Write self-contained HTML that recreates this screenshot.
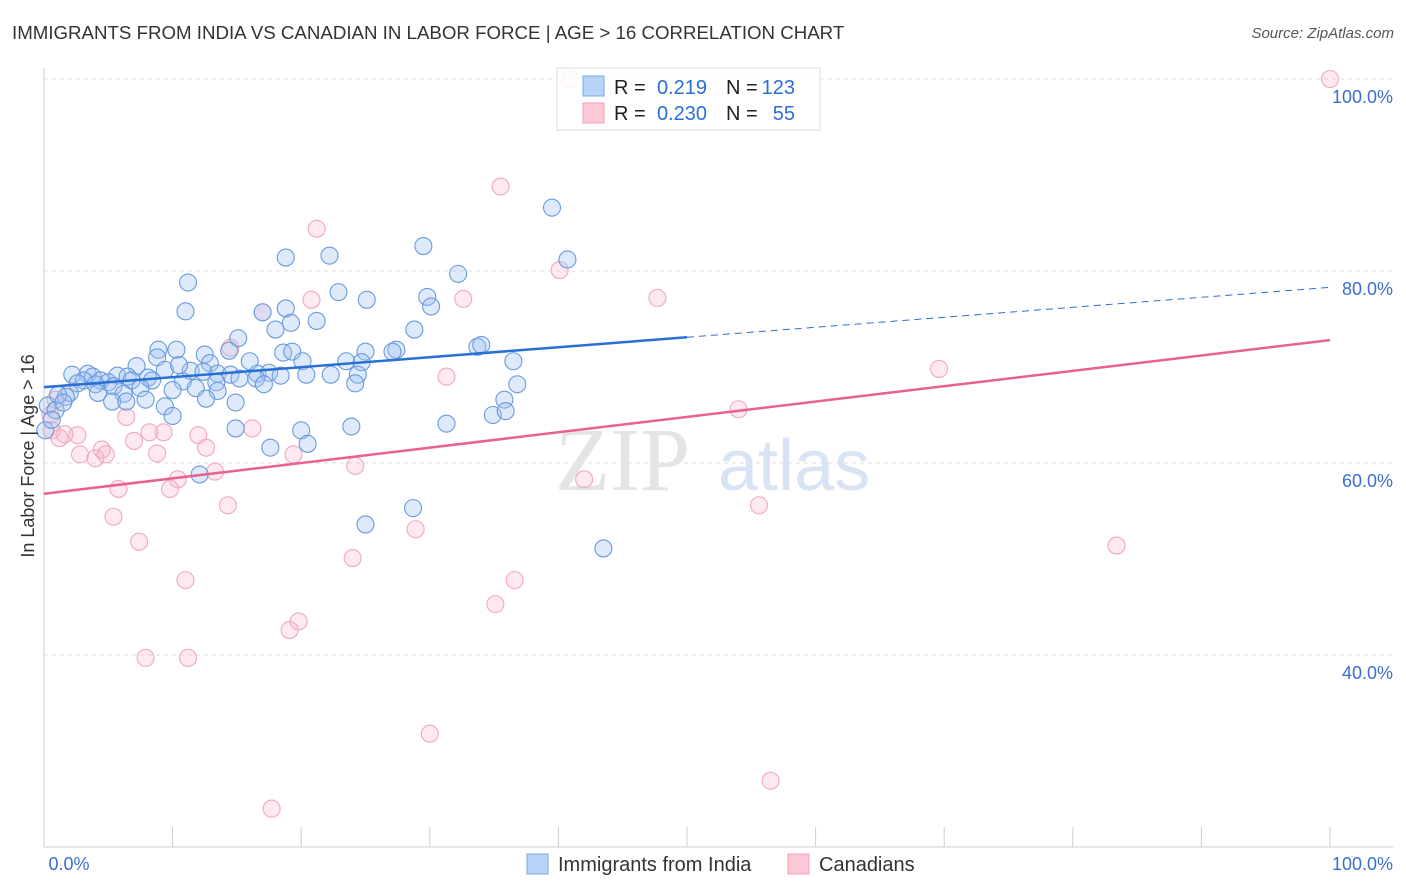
<!DOCTYPE html>
<html><head><meta charset="utf-8"><style>
body{margin:0;background:#fff;font-family:"Liberation Sans",sans-serif;}
#wrap{position:relative;width:1406px;height:892px;}
.t{position:absolute;white-space:nowrap;}
</style></head><body>
<div id="wrap">
<div class="t" style="left:12px;top:22px;font-size:18.7px;color:#333;">IMMIGRANTS FROM INDIA VS CANADIAN IN LABOR FORCE | AGE &gt; 16 CORRELATION CHART</div>
<div class="t" style="right:12px;top:25px;font-size:15px;color:#555;font-style:italic;">Source: ZipAtlas.com</div>
<svg id="svg" width="1406" height="892" style="position:absolute;left:0;top:0;"></svg>
</div>
<script>
const blueX=[39.5,40.7,29.5,18.8,22.2,32.2,11.2,22.9,25.1,29.8,30.1,11.0,18.8,17.0,21.2,19.2,28.8,18.0,15.1,8.9,10.3,14.4,12.5,18.6,19.3,25.0,27.4,27.1,33.7,34.0,8.8,12.9,16.0,20.1,23.5,24.7,36.5,7.2,9.4,11.4,10.5,2.2,3.4,3.8,5.7,6.5,8.1,12.4,13.5,14.5,16.6,17.5,18.4,20.4,22.3,24.4,3.1,4.4,5.0,6.8,8.4,10.8,15.2,16.5,17.1,13.4,24.2,36.8,2.6,4.0,5.4,7.5,11.8,13.5,2.0,4.2,6.2,10.0,1.7,5.3,6.4,7.9,12.6,14.9,0.3,0.9,9.4,35.8,34.9,35.9,10.0,14.9,20.0,23.9,31.3,20.5,17.6,12.1,25.0,28.7,43.5,0.1,0.6,1.1,1.5];
const blueY=[86.6,81.2,82.6,81.4,81.6,79.7,78.8,77.8,77.0,77.3,76.3,75.8,76.1,75.7,74.8,74.6,73.9,73.9,73.0,71.8,71.8,71.7,71.3,71.5,71.6,71.6,71.8,71.6,72.1,72.3,71.0,70.4,70.6,70.6,70.6,70.5,70.6,70.1,69.7,69.6,70.2,69.2,69.3,69.0,69.1,69.0,68.9,69.5,69.3,69.2,69.3,69.4,69.1,69.2,69.2,69.2,68.6,68.6,68.4,68.6,68.6,68.5,68.8,68.8,68.2,68.4,68.3,68.2,68.3,68.2,68.0,67.8,67.8,67.5,67.3,67.3,67.2,67.6,66.9,66.4,66.4,66.6,66.7,66.3,66.0,65.5,65.9,66.6,65.0,65.4,64.9,63.6,63.4,63.8,64.1,62.0,61.6,58.8,53.6,55.3,51.1,63.4,64.5,67.1,66.3];
const pinkX=[40.9,100,35.5,21.2,40.1,32.6,47.7,20.8,17.0,14.5,31.3,69.6,54.0,0.9,0.5,1.2,0.6,2.6,1.6,2.8,4.0,4.5,4.8,6.4,8.2,9.3,7.0,8.8,12.0,12.6,16.2,19.4,13.3,10.4,9.8,5.8,5.4,14.3,24.2,42.0,55.6,28.9,7.4,24.0,83.4,36.6,11.0,35.1,19.8,19.1,7.9,11.2,30.0,56.5,17.7];
const pinkY=[100,100,88.8,84.4,80.1,77.1,77.2,77.0,75.7,72.0,69.0,69.8,65.6,66.6,65.0,62.6,63.4,62.9,63.0,60.9,60.5,61.4,60.9,64.8,63.2,63.2,62.3,61.0,62.9,61.6,63.6,60.9,59.1,58.3,57.3,57.3,54.4,55.6,59.7,58.3,55.6,53.1,51.8,50.1,51.4,47.8,47.8,45.3,43.5,42.6,39.7,39.7,31.8,26.9,24.0];
const blueTrend=[67.9,78.3];
const pinkTrend=[56.8,72.8];
const yTicks=[100,80,60,40];
const yTickLabels=["100.0%","80.0%","60.0%","40.0%"];

const NS="http://www.w3.org/2000/svg";
const svg=document.getElementById('svg');
const X=v=>44+v*12.86;
const Y=v=>1039-v*9.6;
function mk(tag,attrs,name){const e=document.createElementNS(NS,tag);for(const k in attrs)e.setAttribute(k,attrs[k]);


svg.appendChild(e);return e;}
yTicks.forEach((t,i)=>{
 mk('line',{x1:44,x2:1393,y1:Y(t),y2:Y(t),stroke:'#ddd','stroke-dasharray':'4,4'},'y-gridline');
 const tx=mk('text',{x:1393,y:Y(t)+24,'text-anchor':'end','font-size':18,fill:'#3a6fd0','font-family':'Liberation Sans'},'y-tick-label');tx.textContent=yTickLabels[i];
});
mk('line',{x1:44,x2:44,y1:68,y2:847,stroke:'#ccc'},'y-axis');
mk('line',{x1:44,x2:1393,y1:847,y2:847,stroke:'#ccc'},'x-axis');
for(let i=1;i<=10;i++){mk('line',{x1:X(i*10),x2:X(i*10),y1:827,y2:847,stroke:'#ccc'},'x-tick');}
let w=mk('text',{x:555,y:490,'font-size':90,fill:'#e4e4e4','font-family':'Liberation Serif'},'watermark-zip');w.textContent='ZIP';
w=mk('text',{x:718,y:490,'font-size':72,fill:'#d8e4f4','font-family':'Liberation Sans'},'watermark-atlas');w.textContent='atlas';
pinkX.forEach((v,i)=>mk('circle',{cx:X(v),cy:Y(pinkY[i]),r:8.5,fill:'rgba(248,182,202,0.3)',stroke:'#f0a8be','stroke-width':1.1},'canadians-point'));
blueX.forEach((v,i)=>mk('circle',{cx:X(v),cy:Y(blueY[i]),r:8.5,fill:'rgba(160,196,240,0.35)',stroke:'#6a9ade','stroke-width':1.1},'india-point'));
const bm=blueTrend[0]+(blueTrend[1]-blueTrend[0])*0.5;
mk('line',{x1:X(0),y1:Y(blueTrend[0]),x2:X(50),y2:Y(bm),stroke:'#2a6fd6','stroke-width':2.5},'india-trend-line');
mk('line',{x1:X(50),y1:Y(bm),x2:X(100),y2:Y(blueTrend[1]),stroke:'#2a6fd6','stroke-width':1,'stroke-dasharray':'7,5'},'india-trend-dashed');
mk('line',{x1:X(0),y1:Y(pinkTrend[0]),x2:X(100),y2:Y(pinkTrend[1]),stroke:'#e8628f','stroke-width':2.5},'canadians-trend-line');
let t=mk('text',{x:69,y:870,'text-anchor':'middle','font-size':18,fill:'#3a6fd0','font-family':'Liberation Sans'},'x-min-label');t.textContent='0.0%';
t=mk('text',{x:1393,y:870,'text-anchor':'end','font-size':18,fill:'#3a6fd0','font-family':'Liberation Sans'},'x-max-label');t.textContent='100.0%';
t=mk('text',{x:34,y:456,'text-anchor':'middle','font-size':18,fill:'#333','font-family':'Liberation Sans',transform:'rotate(-90 34 456)'},'y-axis-title');t.textContent='In Labor Force | Age > 16';
mk('rect',{x:557,y:68,width:263,height:62,fill:'rgba(255,255,255,0.85)',stroke:'#ddd'},'legend-box');
mk('rect',{x:583,y:76,width:21,height:20,fill:'#b6d2f6',stroke:'#7aaae8'},'legend-swatch-india');
mk('rect',{x:583,y:103,width:21,height:20,fill:'#fcc8d6',stroke:'#f0a0ba'},'legend-swatch-canadians');
function lt(x,y,s,c,n,a){const e=mk('text',{x:x,y:y,'font-size':20,fill:c,'font-family':'Liberation Sans','text-anchor':a||'start'},n);e.textContent=s;}
lt(614,94,'R =','#222','legend-r-label');lt(707,94,'0.219','#2a6fd6','legend-r-india','end');
lt(726,94,'N =','#222','legend-n-label');lt(795,94,'123','#2a6fd6','legend-n-india','end');
lt(614,120,'R =','#222','legend-r-label');lt(707,120,'0.230','#2a6fd6','legend-r-canadians','end');
lt(726,120,'N =','#222','legend-n-label');lt(795,120,'55','#2a6fd6','legend-n-canadians','end');
mk('rect',{x:527,y:854,width:21,height:20,fill:'#b6d2f6',stroke:'#7aaae8'},'bottom-legend-swatch-india');
lt(558,871,'Immigrants from India','#333','bottom-legend-india');
mk('rect',{x:788,y:854,width:21,height:20,fill:'#fcc8d6',stroke:'#f0a0ba'},'bottom-legend-swatch-canadians');
lt(819,871,'Canadians','#333','bottom-legend-canadians');
</script>
</body></html>
